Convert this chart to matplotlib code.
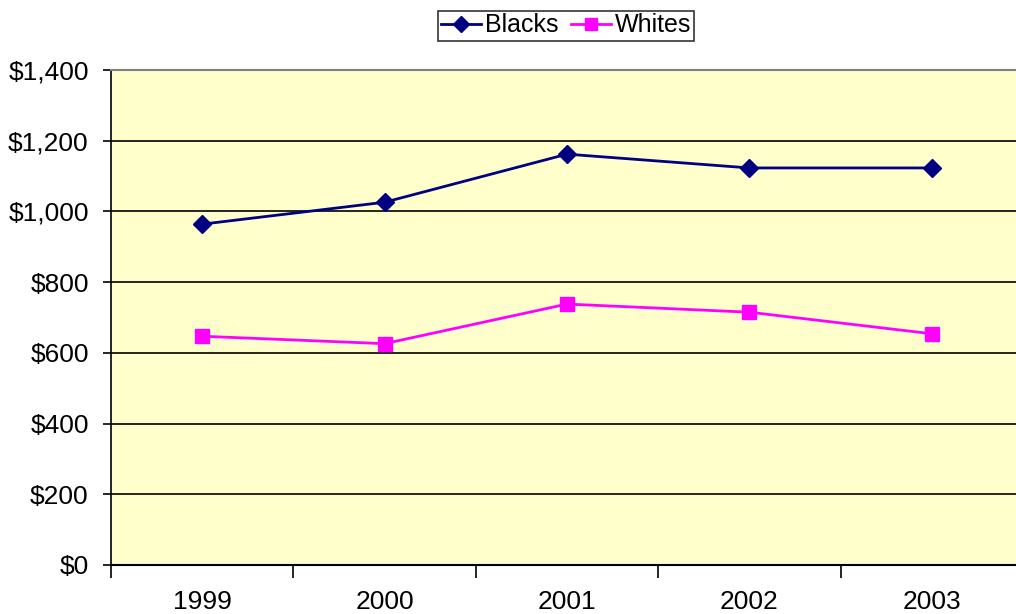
import numpy as np
import matplotlib.pyplot as plt

years = ["1999", "2000", "2001", "2002", "2003"]
blacks = [964, 1026, 1162, 1123, 1123]
whites = [647, 626, 738, 715, 654]
y_ticks = [0, 200, 400, 600, 800, 1000, 1200, 1400]

plt.rcParams["font.family"] = ["Liberation Sans", "DejaVu Sans"]

fig = plt.figure(figsize=(10.16, 6.14), dpi=100)
ax = fig.add_axes([111 / 1016, 1 - 565 / 614, 912 / 1016, 495 / 614])
ax.set_facecolor("#FFFFCC")

x = np.arange(len(years))
ax.plot(x, blacks, color="#000080", lw=2, marker="D", ms=9,
        mfc="#000080", mec="#000080", label="Blacks", zorder=3)
ax.plot(x, whites, color="#FF00FF", lw=2, marker="s", ms=10,
        mfc="#FF00FF", mec="#FF00FF", label="Whites", zorder=3)

ax.set_xlim(-0.5, len(years) - 0.5)
ax.set_ylim(0, 1400)
ax.set_yticks(y_ticks)
ax.set_yticklabels([f"${v:,}" for v in y_ticks], fontsize=19)
for v in y_ticks[1:-1]:
    ax.axhline(v, color="black", lw=1.2, zorder=1)

# category boundaries get tick marks, labels sit at the centers
ax.set_xticks(np.arange(-0.5, len(years), 1.0))
ax.set_xticklabels([])
ax.set_xticks(x, minor=True)
ax.set_xticklabels(years, minor=True, fontsize=19)
ax.tick_params(axis="x", which="major", direction="out", length=9, width=1.2)
ax.tick_params(axis="x", which="minor", length=0, pad=18)
ax.tick_params(axis="y", direction="out", length=6, width=1.2, pad=10)

ax.spines["top"].set_color("#808080")
ax.spines["top"].set_linewidth(1.5)
ax.spines["right"].set_visible(False)
ax.spines["left"].set_linewidth(1.2)
ax.spines["bottom"].set_linewidth(1.5)

leg = fig.legend(loc="upper center", bbox_to_anchor=(566 / 1016, 1 + 2 / 614),
                 ncol=2, fontsize=18, frameon=True, fancybox=False,
                 edgecolor="black", handlelength=1.6, handletextpad=0.15,
                 columnspacing=0.5, borderpad=0.12, markerscale=0.9)
leg.get_frame().set_linewidth(1.2)

fig.savefig("out.png", dpi=100)
